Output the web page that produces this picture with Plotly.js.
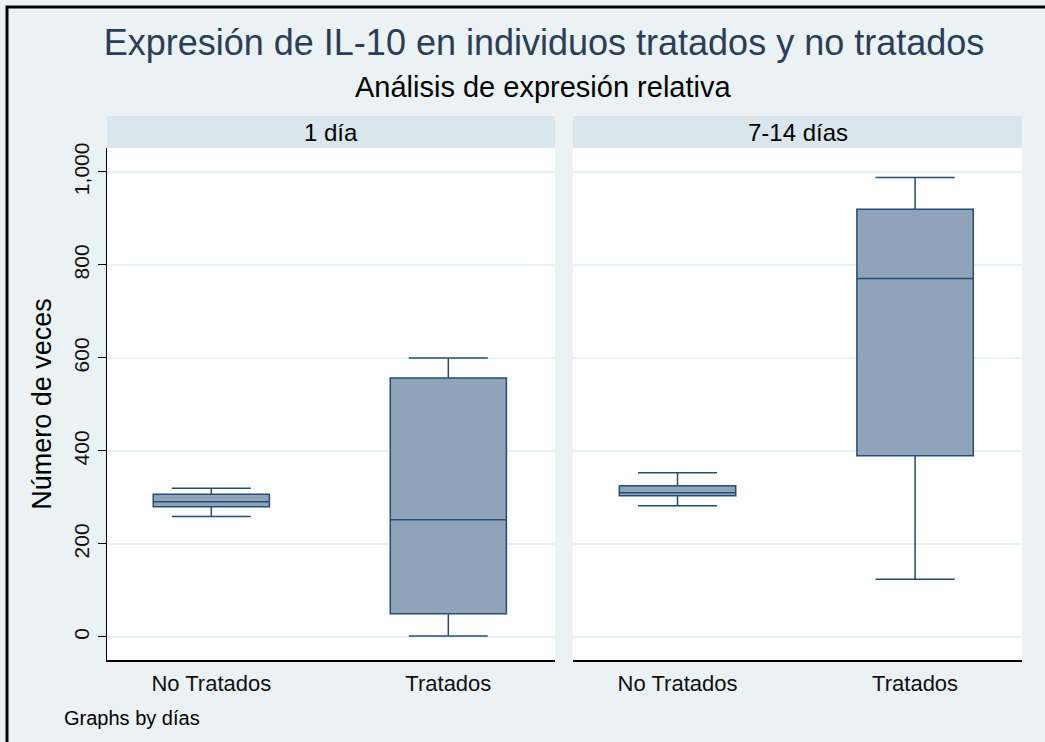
<!DOCTYPE html>
<html>
<head>
<meta charset="utf-8">
<script src="https://cdn.plot.ly/plotly-3.0.1.min.js"></script>
<style>html,body{margin:0;padding:0;background:#eaf2f3;}</style>
</head>
<body>
<div id="chart" style="width:1045px;height:742px;"></div>
<script>
// ---- data ----
const categories = ['No Tratados', 'Tratados'];
const panels = ['1 día', '7-14 días'];

const dia1_lowerfence = [259, 2];
const dia1_q1        = [280, 50];
const dia1_median    = [291, 252];
const dia1_q3        = [307, 557];
const dia1_upperfence= [320, 600];

const dia7_lowerfence = [282, 124];
const dia7_q1        = [304, 390];
const dia7_median    = [310, 771];
const dia7_q3        = [325, 920];
const dia7_upperfence= [353, 988];

const yTickVals = [0, 200, 400, 600, 800, 1000];

// ---- style ----
const fill = '#8fa4b8';
const edge = '#234d75';
const FONT = 'Liberation Sans, Arial, sans-serif';

function boxTrace(q1, med, q3, lo, hi, xa) {
  return {
    type: 'box',
    x: categories,
    q1: q1, median: med, q3: q3, lowerfence: lo, upperfence: hi,
    xaxis: xa, yaxis: 'y',
    width: 0.49,
    whiskerwidth: 0.68,
    fillcolor: fill,
    line: {color: edge, width: 1.5},
    boxpoints: false,
    showlegend: false,
    hoverinfo: 'y'
  };
}

const traces = [
  boxTrace(dia1_q1, dia1_median, dia1_q3, dia1_lowerfence, dia1_upperfence, 'x'),
  boxTrace(dia7_q1, dia7_median, dia7_q3, dia7_lowerfence, dia7_upperfence, 'x2')
];

const W = 1045, H = 742;
const mL = 107, mR = 23, mT = 148, mB = 82;
const pw = W - mL - mR, ph = H - mT - mB;
const px = v => (v - mL) / pw;          // pixel x -> paper x
const py = v => (H - mB - v) / ph;      // pixel y -> paper y

const d1 = [0, px(555)], d2 = [px(573), 1];

const xCommon = {
  type: 'category',
  range: [-0.44, 1.45],
  showline: true, linecolor: '#000', linewidth: 1.5,
  ticks: '', showgrid: false, zeroline: false,
  tickfont: {family: FONT, size: 22, color: '#111'},
  ticklabelstandoff: 3,
  fixedrange: true
};

const layout = {
  width: W, height: H,
  paper_bgcolor: '#eaf2f3',
  plot_bgcolor: '#ffffff',
  margin: {l: mL, r: mR, t: mT, b: mB, pad: 0},
  font: {family: FONT, color: '#000'},
  title: {
    text: 'Expresión de IL-10 en individuos tratados y no tratados',
    font: {family: FONT, size: 36, color: '#2b3d5b'},
    x: px(544), xanchor: 'center', xref: 'paper',
    y: 1 - 42 / H, yanchor: 'middle', yref: 'container'
  },
  xaxis: Object.assign({}, xCommon, {domain: d1, anchor: 'y'}),
  xaxis2: Object.assign({}, xCommon, {domain: d2, anchor: 'y'}),
  yaxis: {
    range: [-49.5, 1051.6],
    tickvals: yTickVals,
    tickformat: ',',
    tickangle: -90,
    ticks: 'outside', ticklen: 8, tickcolor: '#000', tickwidth: 1,
    tickfont: {family: FONT, size: 21, color: '#111'},
    showline: true, linecolor: '#000', linewidth: 1.5,
    showgrid: true, gridcolor: '#eaf2f3', gridwidth: 1.5,
    zeroline: false,
    title: {text: 'Número de veces', font: {family: FONT, size: 27, color: '#000'}, standoff: 10},
    fixedrange: true
  },
  shapes: [
    {type: 'rect', xref: 'paper', yref: 'paper', x0: d1[0], x1: d1[1], y0: 1, y1: py(116),
     fillcolor: '#d9e6eb', line: {width: 0}, layer: 'below'},
    {type: 'rect', xref: 'paper', yref: 'paper', x0: d2[0], x1: d2[1], y0: 1, y1: py(116),
     fillcolor: '#d9e6eb', line: {width: 0}, layer: 'below'},
    {type: 'path', xref: 'paper', yref: 'paper',
     path: 'M ' + px(7) + ' ' + py(H + 5) + ' L ' + px(7) + ' ' + py(7) + ' L ' + px(W + 5) + ' ' + py(7),
     line: {color: '#000', width: 3}}
  ],
  annotations: [
    {text: 'Análisis de expresión relativa', xref: 'paper', yref: 'paper',
     x: px(543), y: py(87), xanchor: 'center', yanchor: 'middle', showarrow: false,
     font: {family: FONT, size: 29, color: '#000'}},
    {text: panels[0], xref: 'paper', yref: 'paper',
     x: (d1[0] + d1[1]) / 2, y: py(132), xanchor: 'center', yanchor: 'middle', showarrow: false,
     font: {family: FONT, size: 24, color: '#000'}},
    {text: panels[1], xref: 'paper', yref: 'paper',
     x: (d2[0] + d2[1]) / 2, y: py(132), xanchor: 'center', yanchor: 'middle', showarrow: false,
     font: {family: FONT, size: 24, color: '#000'}},
    {text: 'Graphs by días', xref: 'paper', yref: 'paper',
     x: px(62), y: py(718), xanchor: 'left', yanchor: 'middle', showarrow: false,
     font: {family: FONT, size: 20, color: '#000'}}
  ]
};

Plotly.newPlot('chart', traces, layout, {displayModeBar: false, staticPlot: true});
</script>
</body>
</html>
